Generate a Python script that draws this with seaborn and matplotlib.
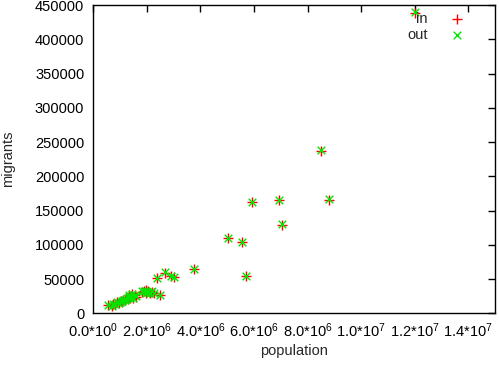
import matplotlib
matplotlib.use("Agg")
import matplotlib.pyplot as plt
import seaborn as sns
import numpy as np
import pandas as pd

# population of each region
population = [12.03e6, 8.49e6, 5.93e6, 6.95e6, 8.81e6, 7.04e6, 5.03e6, 5.57e6, 5.69e6,
              3.76e6, 2.66e6, 2.36e6, 2.92e6, 3.02e6, 2.49e6,
              1.82e6, 1.90e6, 1.97e6, 2.05e6, 2.10e6, 2.18e6, 2.25e6, 1.95e6,
              0.56e6, 0.68e6, 0.75e6, 0.82e6, 0.90e6, 0.95e6, 1.02e6, 1.08e6, 1.12e6,
              1.18e6, 1.22e6, 1.28e6, 1.32e6, 1.38e6, 1.42e6, 1.48e6, 1.55e6, 1.60e6,
              1.35e6, 1.45e6]
# migrants moving in
migrants_in = [439000, 237000, 162000, 165000, 166000, 129000, 110000, 104000, 55000,
               64000, 59000, 52000, 55000, 53000, 27000,
               31000, 33000, 34000, 32000, 30000, 31000, 29000, 29000,
               12000, 11000, 14000, 13000, 16000, 15000, 18000, 17000, 20000,
               19000, 22000, 21000, 24000, 23000, 25000, 22000, 26000, 24000,
               27000, 28000]
# migrants moving out
migrants_out = [440000, 238000, 163000, 166000, 167000, 130000, 110000, 104000, 55000,
                65000, 60000, 52000, 54000, 53000, 27000,
                32000, 33000, 33000, 31000, 30000, 32000, 29000, 30000,
                12000, 11000, 13000, 14000, 16000, 15000, 17000, 18000, 20000,
                19000, 21000, 22000, 24000, 22000, 25000, 23000, 26000, 25000,
                27000, 28000]

xticks = [0, 2e6, 4e6, 6e6, 8e6, 1e7, 1.2e7, 1.4e7]
xtick_labels = [r"$\mathregular{0.0{*}10^{0}}$", r"$\mathregular{2.0{*}10^{6}}$",
                r"$\mathregular{4.0{*}10^{6}}$", r"$\mathregular{6.0{*}10^{6}}$",
                r"$\mathregular{8.0{*}10^{6}}$", r"$\mathregular{1.0{*}10^{7}}$",
                r"$\mathregular{1.2{*}10^{7}}$", r"$\mathregular{1.4{*}10^{7}}$"]
yticks = list(range(0, 450001, 50000))

sns.set_style("white")
plt.rcParams["font.family"] = ["Liberation Sans", "DejaVu Sans"]
plt.rcParams["mathtext.fontset"] = "custom"
plt.rcParams["mathtext.rm"] = "Liberation Sans"
plt.rcParams["mathtext.it"] = "Liberation Sans"
plt.rcParams["mathtext.bf"] = "Liberation Sans"

fig = plt.figure(figsize=(4.99, 3.65), dpi=100)
ax = fig.add_axes([93.3 / 499, 1 - 313.3 / 365, (495 - 93.3) / 499, (313.3 - 5) / 365])

df = pd.DataFrame({"population": population, "in": migrants_in, "out": migrants_out})
sns.scatterplot(data=df, x="population", y="in", marker="+", color="#ff0000",
                s=45, linewidth=1.0, label="in", ax=ax, zorder=2)
sns.scatterplot(data=df, x="population", y="out", marker="x", color="#00e600",
                s=30, linewidth=1.0, label="out", ax=ax, zorder=3)

ax.set_xlim(0, 1.5e7)
ax.set_ylim(0, 450000)
ax.set_xticks(xticks)
ax.set_xticklabels(xtick_labels)
ax.set_yticks(yticks)
ax.set_yticklabels([str(v) for v in yticks])
ax.tick_params(direction="in", length=5, width=1, top=True, right=True,
               labelsize=10.5, colors="black")
ax.tick_params(axis="y", pad=6.5)
ax.tick_params(axis="x", pad=6)
for s in ax.spines.values():
    s.set_visible(True)
    s.set_color("black")
    s.set_linewidth(1)

ax.set_xlabel("population", fontsize=10.5, labelpad=3)
ax.set_ylabel("migrants", fontsize=10.5, labelpad=14)

ax.legend(loc="upper right", bbox_to_anchor=(0.942, 0.978), frameon=False,
          markerfirst=False, fontsize=10.5, handlelength=2, handletextpad=1.0,
          borderpad=0, borderaxespad=0, labelspacing=0.15)

fig.savefig("out.png", dpi=100)
